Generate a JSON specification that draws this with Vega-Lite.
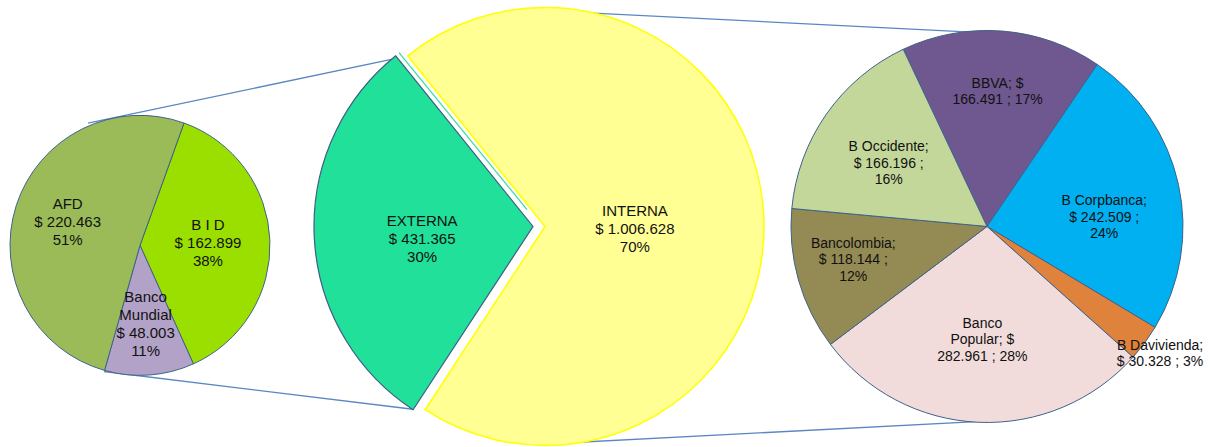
{
  "$schema": "https://vega.github.io/schema/vega-lite/v6.json",
  "width": 1215,
  "height": 447,
  "padding": 0,
  "autosize": {"type": "fit", "contains": "padding"},
  "background": "white",
  "config": {"view": {"stroke": null}},
  "datasets": {
    "slices": [
      {"pie": "left", "i": 0, "name": "B I D", "value": 162.899, "label": "B I D\n$ 162.899\n38%"},
      {"pie": "left", "i": 1, "name": "Banco Mundial", "value": 48.003, "label": "Banco\nMundial\n$ 48.003\n11%"},
      {"pie": "left", "i": 2, "name": "AFD", "value": 220.463, "label": "AFD\n$ 220.463\n51%"},
      {"pie": "mid", "i": 0, "name": "EXTERNA", "value": 431.365, "label": "EXTERNA\n$ 431.365\n30%"},
      {"pie": "mid", "i": 1, "name": "INTERNA", "value": 1006.628, "label": "INTERNA\n$ 1.006.628\n70%"},
      {"pie": "right", "i": 0, "name": "BBVA", "value": 166.491, "label": "BBVA; $\n166.491 ; 17%"},
      {"pie": "right", "i": 1, "name": "B Corpbanca", "value": 242.509, "label": "B Corpbanca;\n$ 242.509 ;\n24%"},
      {"pie": "right", "i": 2, "name": "B Davivienda", "value": 30.328, "label": "B Davivienda;\n$ 30.328 ; 3%"},
      {"pie": "right", "i": 3, "name": "Banco Popular", "value": 282.961, "label": "Banco\nPopular; $\n282.961 ; 28%"},
      {"pie": "right", "i": 4, "name": "Bancolombia", "value": 118.144, "label": "Bancolombia;\n$ 118.144 ;\n12%"},
      {"pie": "right", "i": 5, "name": "B Occidente", "value": 166.196, "label": "B Occidente;\n$ 166.196 ;\n16%"}
    ],
    "links": [
      {"kind": "link", "x1": 88, "y1": 124, "x2": 395, "y2": 59},
      {"kind": "link", "x1": 104, "y1": 374, "x2": 413, "y2": 412},
      {"kind": "link", "x1": 548, "y1": 11, "x2": 986, "y2": 33},
      {"kind": "link", "x1": 545, "y1": 447, "x2": 986, "y2": 424},
      {"kind": "gap", "x1": 399, "y1": 53, "x2": 527, "y2": 211}
    ]
  },
  "resolve": {"scale": {"theta": "independent"}},
  "layer": [
    {
      "data": {"name": "links"},
      "mark": {"type": "rule", "strokeWidth": 1.3},
      "encoding": {
        "x": {"field": "x1", "type": "quantitative", "scale": {"domain": [0, 1215], "nice": false, "zero": false}, "axis": null},
        "y": {"field": "y1", "type": "quantitative", "scale": {"domain": [0, 447], "nice": false, "zero": false, "reverse": true}, "axis": null},
        "x2": {"field": "x2"},
        "y2": {"field": "y2"},
        "stroke": {"field": "kind", "type": "nominal", "scale": {"domain": ["link", "gap"], "range": ["#5A87C2", "#3EDCA8"]}, "legend": null}
      }
    },
    {
      "data": {"name": "slices"},
      "transform": [{"filter": "datum.pie === 'left'"}],
      "mark": {"type": "arc", "radius": 130, "stroke": "#3F6289", "strokeWidth": 1},
      "encoding": {
        "x": {"datum": 140, "type": "quantitative", "scale": {"domain": [0, 1215], "nice": false, "zero": false}, "axis": null},
        "y": {"datum": 247, "type": "quantitative", "scale": {"domain": [0, 447], "nice": false, "zero": false, "reverse": true}, "axis": null},
        "theta": {"field": "value", "type": "quantitative", "stack": true, "scale": {"range": [0.3456, 6.6288]}},
        "order": {"field": "i", "type": "quantitative"},
        "fill": {"field": "name", "type": "nominal", "legend": null,
          "scale": {"domain": ["B I D", "Banco Mundial", "AFD", "EXTERNA", "INTERNA", "BBVA", "B Corpbanca", "B Davivienda", "Banco Popular", "Bancolombia", "B Occidente"],
                    "range": ["#9ADF00", "#B3A2C7", "#9BBB59", "#20E09A", "#FFFF94", "#6F5890", "#00B0F0", "#DE823C", "#F2DCDB", "#948A54", "#C4D79B"]}}
      }
    },
    {
      "data": {"name": "slices"},
      "transform": [
        {"filter": "datum.pie === 'mid'"},
        {"stack": "value", "sort": [{"field": "i", "order": "ascending"}], "offset": "normalize", "as": ["t0", "t1"]},
        {"filter": "datum.name === 'EXTERNA'"}
      ],
      "mark": {"type": "arc", "radius": 219, "stroke": "#3E5C85", "strokeWidth": 1.2},
      "encoding": {
        "x": {"datum": 533, "type": "quantitative", "scale": {"domain": [0, 1215], "nice": false, "zero": false}, "axis": null},
        "y": {"datum": 228, "type": "quantitative", "scale": {"domain": [0, 447], "nice": false, "zero": false, "reverse": true}, "axis": null},
        "theta": {"field": "t0", "type": "quantitative", "scale": {"domain": [0, 1], "range": [3.721, 10.0042], "nice": false}},
        "theta2": {"field": "t1"},
        "fill": {"field": "name", "type": "nominal", "legend": null}
      }
    },
    {
      "data": {"name": "slices"},
      "transform": [
        {"filter": "datum.pie === 'mid'"},
        {"stack": "value", "sort": [{"field": "i", "order": "ascending"}], "offset": "normalize", "as": ["t0", "t1"]},
        {"filter": "datum.name === 'INTERNA'"}
      ],
      "mark": {"type": "arc", "radius": 219, "stroke": "#FFFF00", "strokeWidth": 1.5},
      "encoding": {
        "x": {"datum": 545, "type": "quantitative", "scale": {"domain": [0, 1215], "nice": false, "zero": false}, "axis": null},
        "y": {"datum": 228, "type": "quantitative", "scale": {"domain": [0, 447], "nice": false, "zero": false, "reverse": true}, "axis": null},
        "theta": {"field": "t0", "type": "quantitative", "scale": {"domain": [0, 1], "range": [3.721, 10.0042], "nice": false}},
        "theta2": {"field": "t1"},
        "fill": {"field": "name", "type": "nominal", "legend": null}
      }
    },
    {
      "data": {"name": "slices"},
      "transform": [{"filter": "datum.pie === 'right'"}],
      "mark": {"type": "arc", "radius": 196, "stroke": "#3F6289", "strokeWidth": 1},
      "encoding": {
        "x": {"datum": 987, "type": "quantitative", "scale": {"domain": [0, 1215], "nice": false, "zero": false}, "axis": null},
        "y": {"datum": 228, "type": "quantitative", "scale": {"domain": [0, 447], "nice": false, "zero": false, "reverse": true}, "axis": null},
        "theta": {"field": "value", "type": "quantitative", "stack": true, "scale": {"range": [5.8416, 12.1248]}},
        "order": {"field": "i", "type": "quantitative"},
        "fill": {"field": "name", "type": "nominal", "legend": null}
      }
    },
    {
      "data": {"name": "slices"},
      "transform": [{"filter": "datum.pie === 'left'"}],
      "mark": {"type": "text", "font": "Liberation Sans", "fontSize": 15, "lineHeight": 18, "lineBreak": "\n", "color": "#111111", "align": "center", "baseline": "middle",
               "radius": {"expr": "datum.name === 'B I D' ? 68 : 76"},
               "dy": {"expr": "-(length(split(datum.label, '\\n')) - 1) * 9 + (datum.name === 'Banco Mundial' ? 3 : 0)"}},
      "encoding": {
        "x": {"datum": 140, "type": "quantitative", "scale": {"domain": [0, 1215], "nice": false, "zero": false}, "axis": null},
        "y": {"datum": 247, "type": "quantitative", "scale": {"domain": [0, 447], "nice": false, "zero": false, "reverse": true}, "axis": null},
        "theta": {"field": "value", "type": "quantitative", "stack": true, "scale": {"range": [0.3456, 6.6288]}},
        "order": {"field": "i", "type": "quantitative"},
        "text": {"field": "label", "type": "nominal"}
      }
    },
    {
      "data": {"name": "slices"},
      "transform": [{"filter": "datum.pie === 'mid'"}],
      "mark": {"type": "text", "font": "Liberation Sans", "fontSize": 15, "lineHeight": 18, "lineBreak": "\n", "color": "#111111", "align": "center", "baseline": "middle",
               "radius": {"expr": "datum.name === 'EXTERNA' ? 117 : 96"},
               "dy": {"expr": "-(length(split(datum.label, '\\n')) - 1) * 9"}},
      "encoding": {
        "x": {"datum": 539, "type": "quantitative", "scale": {"domain": [0, 1215], "nice": false, "zero": false}, "axis": null},
        "y": {"datum": 235, "type": "quantitative", "scale": {"domain": [0, 447], "nice": false, "zero": false, "reverse": true}, "axis": null},
        "theta": {"field": "value", "type": "quantitative", "stack": true, "scale": {"range": [3.721, 10.0042]}},
        "order": {"field": "i", "type": "quantitative"},
        "text": {"field": "label", "type": "nominal"}
      }
    },
    {
      "data": {"name": "slices"},
      "transform": [{"filter": "datum.pie === 'right'"}],
      "mark": {"type": "text", "font": "Liberation Sans", "fontSize": 14, "lineHeight": 16.5, "lineBreak": "\n", "color": "#111111", "align": "center", "baseline": "middle",
               "radius": {"expr": "datum.name === 'BBVA' ? 135 : datum.name === 'Bancolombia' ? 139 : datum.name === 'Banco Popular' ? 110 : datum.name === 'B Davivienda' ? 215 : 120"},
               "dy": {"expr": "-(length(split(datum.label, '\\n')) - 1) * 8.25 + (datum.name === 'B Corpbanca' ? 17 : datum.name === 'B Occidente' ? 6 : datum.name === 'Banco Popular' ? 4 : datum.name === 'Bancolombia' ? -4 : 0)"}},
      "encoding": {
        "x": {"datum": 987, "type": "quantitative", "scale": {"domain": [0, 1215], "nice": false, "zero": false}, "axis": null},
        "y": {"datum": 228, "type": "quantitative", "scale": {"domain": [0, 447], "nice": false, "zero": false, "reverse": true}, "axis": null},
        "theta": {"field": "value", "type": "quantitative", "stack": true, "scale": {"range": [5.8416, 12.1248]}},
        "order": {"field": "i", "type": "quantitative"},
        "text": {"field": "label", "type": "nominal"}
      }
    }
  ]
}
